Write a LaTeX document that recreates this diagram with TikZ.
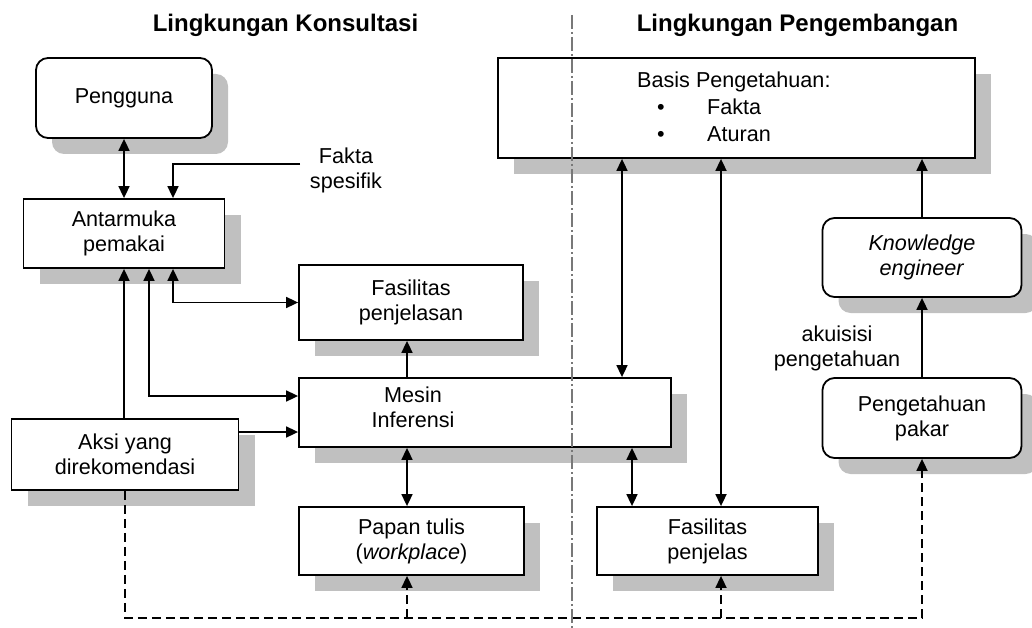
\documentclass[tikz,border=0pt]{standalone}
\usepackage{fontspec}
\setmainfont{Liberation Sans}
\usetikzlibrary{arrows.meta,shadows,calc}
\definecolor{shadowgray}{RGB}{192,192,192}
\definecolor{divgray}{RGB}{120,120,120}
\begin{document}
\begin{tikzpicture}[x=1pt,y=-1pt,
  font=\fontsize{21.6}{25}\selectfont,
  >={Triangle[length=12pt,width=11pt]},
  box/.style={draw, line width=1.8pt, fill=white, inner sep=0pt, align=center,
    drop shadow={shadow xshift=16pt, shadow yshift=-16pt, fill=shadowgray, opacity=1}},
  rbox/.style={box, rounded corners=12pt},
  conn/.style={line width=1.7pt},
  dconn/.style={line width=1.7pt, dash pattern=on 9pt off 5pt},
  title/.style={font=\fontsize{24}{28}\selectfont\bfseries, anchor=base, inner sep=0pt},
  plain/.style={inner sep=0pt, align=center}
]
\useasboundingbox (0,0) rectangle (1032,628);

% titles
\node[title] (t1) at (285.5,32) {Lingkungan Konsultasi};
\node[title] (t2) at (797.5,32) {Lingkungan Pengembangan};

% boxes
\node[rbox, minimum width=176pt, minimum height=80pt] (pengguna) at (124,98) {Pengguna};
\node[box, minimum width=201pt, minimum height=69pt] (antarmuka) at (124,233.5) {Antarmuka\\pemakai};
\node[box, minimum width=224pt, minimum height=75pt] (fasjelasan) at (411,302.5) {Fasilitas\\penjelasan};
\node[box, minimum width=372pt, minimum height=69pt] (mesin) at (485,412.5) {};
\node[plain] (mesintext) at (413,407) {Mesin\\Inferensi};
\node[box, minimum width=227pt, minimum height=71pt] (aksi) at (125,454.5) {Aksi yang\\direkomendasi};
\node[box, minimum width=225pt, minimum height=68pt] (papan) at (411.5,541) {Papan tulis\\(\textit{workplace})};
\node[box, minimum width=221pt, minimum height=68pt] (fasjelas) at (707.5,541) {Fasilitas\\penjelas};
\node[box, minimum width=477pt, minimum height=100pt] (basis) at (736.5,108) {};
\node[anchor=north west, inner sep=0pt, align=left, font=\fontsize{21.6}{27}\selectfont] (basistext) at (637,72)
  {Basis Pengetahuan:\\\makebox[70pt][l]{\hspace*{20pt}\textbullet}Fakta\\\makebox[70pt][l]{\hspace*{20pt}\textbullet}Aturan};
\node[rbox, minimum width=199pt, minimum height=79pt] (knowledge) at (922,257.5) {\textit{Knowledge}\\\textit{engineer}};
\node[rbox, minimum width=199pt, minimum height=80pt] (pakar) at (922,418) {Pengetahuan\\pakar};

% free labels
\node[plain] (fakta) at (346,170) {Fakta\\spesifik};
\node[plain] (akuisisi) at (837,348) {akuisisi\\pengetahuan};

% helper coordinates
\coordinate (xb) at (149,0);
\coordinate (xc) at (173,0);
\coordinate (xm) at (407,0);
\coordinate (xd) at (622,0);
\coordinate (xe) at (632,0);
\coordinate (xf) at (721,0);
\coordinate (ym) at (0,396);
\coordinate (yq) at (0,432);
\coordinate (ybot) at (0,618);
\coordinate (fk) at (300,164);
\coordinate (dtop) at (572,15);
\coordinate (dbot) at (572,628);

% solid connectors
\draw[conn,<->] (pengguna.south) -- (pengguna.south |- antarmuka.north);
\draw[conn,->] (fk) -| (antarmuka.north -| xc);
\draw[conn,->] (aksi.north -| antarmuka.south) -- (antarmuka.south);
\draw[conn,<->] (antarmuka.south -| xb) |- (mesin.west |- ym);
\draw[conn,<->] (antarmuka.south -| xc) |- (fasjelasan.west);
\draw[conn,->] (aksi.east |- yq) -- (mesin.west |- yq);
\draw[conn,->] (mesin.north -| xm) -- (fasjelasan.south -| xm);
\draw[conn,<->] (mesin.south -| xm) -- (papan.north -| xm);
\draw[conn,<->] (mesin.south -| xe) -- (fasjelas.north -| xe);
\draw[conn,<->] (basis.south -| xd) -- (mesin.north -| xd);
\draw[conn,<->] (basis.south -| xf) -- (fasjelas.north -| xf);
\draw[conn,->] (knowledge.north) -- (basis.south -| knowledge.north);
\draw[conn,->] (pakar.north) -- (knowledge.south);

% dashed connectors
\draw[dconn,->] (aksi.south) -- (aksi.south |- ybot) -| (pakar.south);
\draw[dconn,->] (xm |- ybot) -- (papan.south -| xm);
\draw[dconn,->] (xf |- ybot) -- (fasjelas.south -| xf);

% divider
\draw[divgray, line width=1.5pt, dash pattern=on 14pt off 3pt on 2pt off 3pt] (dtop) -- (dbot);
\end{tikzpicture}
\end{document}
